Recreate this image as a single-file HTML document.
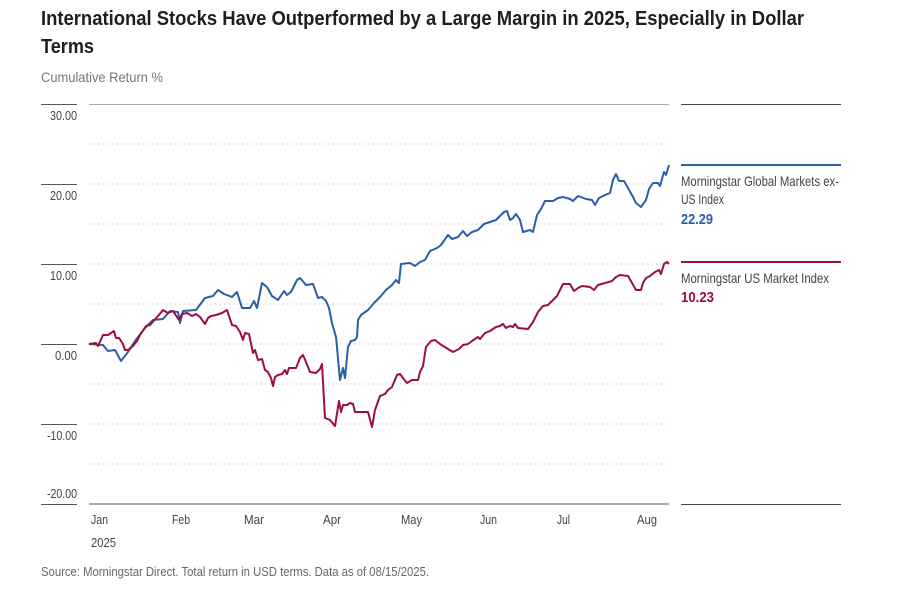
<!DOCTYPE html>
<html><head><meta charset="utf-8"><style>
html,body{margin:0;padding:0;background:#fff;}
svg{display:block;}
text{font-family:"Liberation Sans Narrow","Liberation Sans",sans-serif;}
</style></head><body>
<svg width="902" height="601" viewBox="0 0 902 601" xmlns="http://www.w3.org/2000/svg">
<text x="41" y="25" font-size="20" font-weight="bold" fill="#1e1e1e" textLength="763" lengthAdjust="spacingAndGlyphs">International Stocks Have Outperformed by a Large Margin in 2025, Especially in Dollar</text>
<text x="41" y="53" font-size="20" font-weight="bold" fill="#1e1e1e" textLength="53" lengthAdjust="spacingAndGlyphs">Terms</text>
<text x="41" y="82" font-size="14" fill="#777" textLength="122" lengthAdjust="spacingAndGlyphs">Cumulative Return %</text>
<g stroke="#ddd" stroke-width="1.5" stroke-dasharray="1.5,3">
<line x1="89" y1="144" x2="669" y2="144"/><line x1="89" y1="184" x2="669" y2="184"/>
<line x1="89" y1="224" x2="669" y2="224"/><line x1="89" y1="264" x2="669" y2="264"/>
<line x1="89" y1="304" x2="669" y2="304"/><line x1="89" y1="344" x2="669" y2="344"/>
<line x1="89" y1="384" x2="669" y2="384"/><line x1="89" y1="424" x2="669" y2="424"/>
<line x1="89" y1="464" x2="669" y2="464"/>
</g>
<line x1="89" y1="104.5" x2="669" y2="104.5" stroke="#aaa" stroke-width="1"/>
<line x1="89" y1="504" x2="669" y2="504" stroke="#aaa" stroke-width="2"/>
<g stroke="#555" stroke-width="1">
<line x1="41" y1="104.5" x2="77" y2="104.5"/><line x1="41" y1="184.5" x2="77" y2="184.5"/>
<line x1="41" y1="264.5" x2="77" y2="264.5"/><line x1="41" y1="344.5" x2="77" y2="344.5"/>
<line x1="41" y1="424.5" x2="77" y2="424.5"/><line x1="41" y1="504.5" x2="77" y2="504.5"/>
</g>
<g font-size="13" fill="#444" lengthAdjust="spacingAndGlyphs">
<text x="50" y="120" textLength="27" lengthAdjust="spacingAndGlyphs">30.00</text>
<text x="50" y="200" textLength="27" lengthAdjust="spacingAndGlyphs">20.00</text>
<text x="50" y="280" textLength="27" lengthAdjust="spacingAndGlyphs">10.00</text>
<text x="55" y="360" textLength="22" lengthAdjust="spacingAndGlyphs">0.00</text>
<text x="47" y="440" textLength="30" lengthAdjust="spacingAndGlyphs">-10.00</text>
<text x="47" y="498" textLength="30" lengthAdjust="spacingAndGlyphs">-20.00</text>
</g>
<g font-size="13" fill="#444">
<text x="91" y="524" textLength="17" lengthAdjust="spacingAndGlyphs">Jan</text>
<text x="172" y="524" textLength="18" lengthAdjust="spacingAndGlyphs">Feb</text>
<text x="244" y="524" textLength="20" lengthAdjust="spacingAndGlyphs">Mar</text>
<text x="323" y="524" textLength="18" lengthAdjust="spacingAndGlyphs">Apr</text>
<text x="401" y="524" textLength="21" lengthAdjust="spacingAndGlyphs">May</text>
<text x="480" y="524" textLength="17" lengthAdjust="spacingAndGlyphs">Jun</text>
<text x="557" y="524" textLength="13" lengthAdjust="spacingAndGlyphs">Jul</text>
<text x="637" y="524" textLength="20" lengthAdjust="spacingAndGlyphs">Aug</text>
<text x="91" y="547" textLength="25" lengthAdjust="spacingAndGlyphs">2025</text>
</g>
<text x="41" y="576" font-size="12.5" fill="#666" textLength="388" lengthAdjust="spacingAndGlyphs">Source: Morningstar Direct. Total return in USD terms. Data as of 08/15/2025.</text>
<polyline fill="none" stroke="#2a5ea8" stroke-width="2" stroke-linejoin="round" points="89,344 103,345 108,351 115,350 121,361 128,352 135,341 145,328 153,320 163,319 170,311 178,312 180,323 183,311 196,310 205,298 213,296 218,290 224,294 232,297 237,292 242,308 250,308 254,301 257,308 262,283 267,287 272,296 278,300 284,291 287,295 291,292 297,280 300,278 306,285 313,284 318,298 322,297 326,301 329,308 332,323 336,337 340,380 343,368 345,378 348,347 351,341 355,340 357,337 358,320 361,315 368,310 374,303 380,297 386,290 392,285 396,280 399,283 401,264 410,263 415,266 420,262 425,260 430,251 437,248 441,245 448,235 452,239 458,237 463,231 467,236 472,232 478,230 484,224 490,222 496,220 504,212 507,211 510,220 513,218 516,214 520,220 523,232 530,230 533,232 537,215 541,209 545,201 553,201 558,198 563,197 570,199 573,201 578,196 586,199 592,200 595,205 599,198 605,195 610,193 613,180 616,174 619,181 624,181 628,188 633,197 636,203 641,207 646,200 649,189 653,183 658,183 660,186 664,172 666,175 669,165"/>
<polyline fill="none" stroke="#9b0f3e" stroke-width="2" stroke-linejoin="round" points="89,344 96,343 98,346 103,335 108,335 114,331 116,338 119,338 123,344 125,350 128,350 133,346 137,341 140,335 146,326 150,325 158,316 163,310 168,313 173,311 179,320 182,314 187,313 192,316 196,314 200,317 205,324 208,318 211,316 216,315 222,313 227,310 232,325 236,326 240,332 243,340 245,333 249,334 253,353 255,350 258,360 262,359 265,370 268,372 271,378 273,386 275,377 278,375 282,374 285,370 287,374 289,368 296,368 300,358 303,355 306,362 310,372 316,373 320,369 322,364 325,418 330,420 335,426 339,401 341,412 343,405 347,405 350,403 353,404 355,412 362,412 368,412 372,427 375,410 380,396 385,394 388,390 392,387 397,375 400,374 403,378 407,383 412,380 418,380 420,372 423,366 426,347 431,341 435,340 440,344 448,349 453,352 459,349 463,345 468,344 472,341 478,337 480,339 485,333 490,331 496,327 500,326 503,324 506,328 510,326 513,327 515,324 518,328 528,329 533,322 538,312 543,306 548,305 552,301 557,296 563,284 570,284 574,291 578,288 582,286 590,287 594,290 598,285 605,283 612,281 616,277 620,275 628,276 632,283 636,290 641,290 643,283 646,278 650,276 655,272 659,270 661,274 664,264 667,262 669,264"/>
<line x1="681" y1="104.5" x2="841" y2="104.5" stroke="#444" stroke-width="1"/>
<line x1="681" y1="504.5" x2="841" y2="504.5" stroke="#444" stroke-width="1"/>
<line x1="681" y1="165" x2="841" y2="165" stroke="#2a5ea8" stroke-width="2"/>
<line x1="681" y1="262" x2="841" y2="262" stroke="#9b0f3e" stroke-width="2"/>
<g font-size="14" fill="#444">
<text x="681" y="186" textLength="158" lengthAdjust="spacingAndGlyphs">Morningstar Global Markets ex-</text>
<text x="681" y="204" textLength="43" lengthAdjust="spacingAndGlyphs">US Index</text>
<text x="681" y="283" textLength="148" lengthAdjust="spacingAndGlyphs">Morningstar US Market Index</text>
</g>
<text x="681" y="224" font-size="15" font-weight="bold" fill="#2a5ea8" textLength="32" lengthAdjust="spacingAndGlyphs">22.29</text>
<text x="681" y="302" font-size="15" font-weight="bold" fill="#9b0f3e" textLength="33" lengthAdjust="spacingAndGlyphs">10.23</text>
</svg>
</body></html>
